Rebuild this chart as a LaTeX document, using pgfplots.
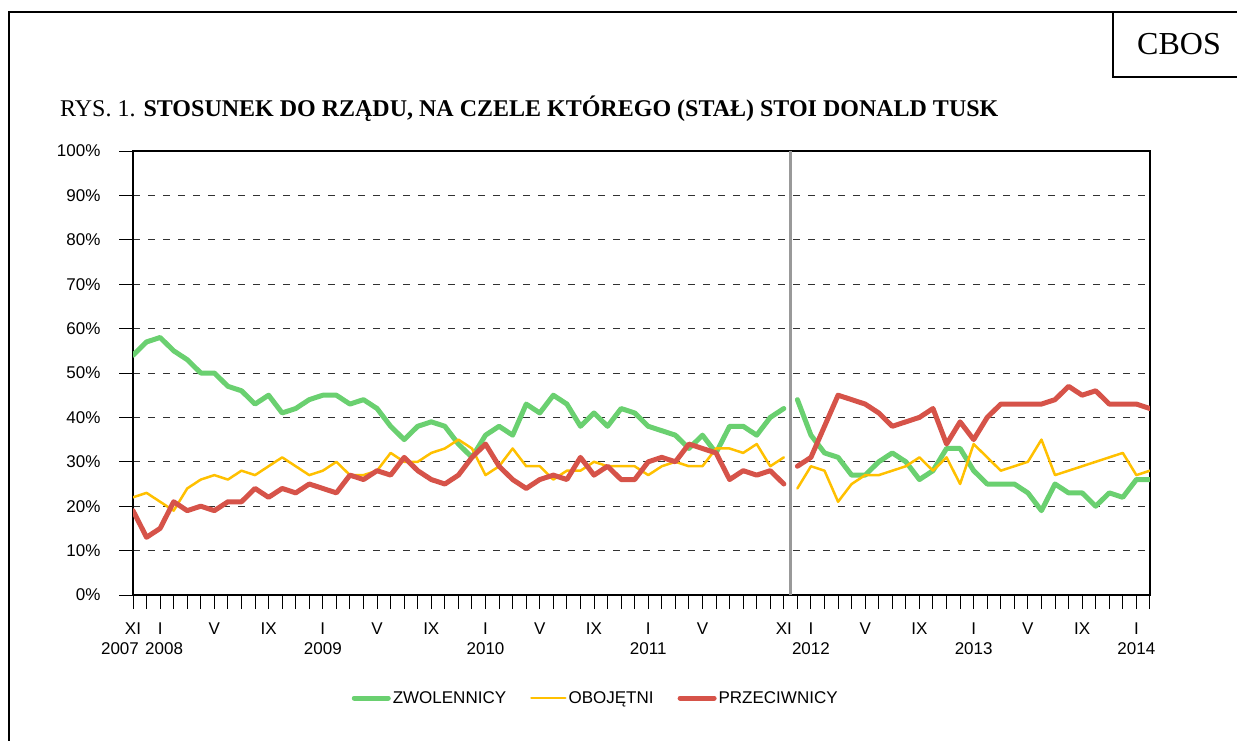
\documentclass[border=0pt]{standalone}
\usepackage{fontspec}
\setmainfont{Liberation Sans}
\newfontfamily\timesfont{Liberation Serif}
\usepackage{pgfplots}
\pgfplotsset{compat=1.18}
\usepackage{pgfplotstable}

\definecolor{cgreen}{RGB}{106,208,112}
\definecolor{cred}{RGB}{214,83,73}
\definecolor{cyellow}{RGB}{255,192,0}
\definecolor{cgrid}{RGB}{50,50,50}

\pgfplotstableread{
x y
0 54
1 57
2 58
3 55
4 53
5 50
6 50
7 47
8 46
9 43
10 45
11 41
12 42
13 44
14 45
15 45
16 43
17 44
18 42
19 38
20 35
21 38
22 39
23 38
24 34
25 31
26 36
27 38
28 36
29 43
30 41
31 45
32 43
33 38
34 41
35 38
36 42
37 41
38 38
39 37
40 36
41 33
42 36
43 32
44 38
45 38
46 36
47 40
48 42
48.5 nan
49 44
50 36
51 32
52 31
53 27
54 27
55 30
56 32
57 30
58 26
59 28
60 33
61 33
62 28
63 25
64 25
65 25
66 23
67 19
68 25
69 23
70 23
71 20
72 23
73 22
74 26
75 26
}\greendata

\pgfplotstableread{
x y
0 22
1 23
2 21
3 19
4 24
5 26
6 27
7 26
8 28
9 27
10 29
11 31
12 29
13 27
14 28
15 30
16 27
17 27
18 28
19 32
20 30
21 30
22 32
23 33
24 35
25 33
26 27
27 29
28 33
29 29
30 29
31 26
32 28
33 28
34 30
35 29
36 29
37 29
38 27
39 29
40 30
41 29
42 29
43 33
44 33
45 32
46 34
47 29
48 31
48.5 nan
49 24
50 29
51 28
52 21
53 25
54 27
55 27
56 28
57 29
58 31
59 28
60 31
61 25
62 34
63 31
64 28
65 29
66 30
67 35
68 27
69 28
70 29
71 30
72 31
73 32
74 27
75 28
}\yellowdata

\pgfplotstableread{
x y
0 19
1 13
2 15
3 21
4 19
5 20
6 19
7 21
8 21
9 24
10 22
11 24
12 23
13 25
14 24
15 23
16 27
17 26
18 28
19 27
20 31
21 28
22 26
23 25
24 27
25 31
26 34
27 29
28 26
29 24
30 26
31 27
32 26
33 31
34 27
35 29
36 26
37 26
38 30
39 31
40 30
41 34
42 33
43 32
44 26
45 28
46 27
47 28
48 25
48.5 nan
49 29
50 31
51 38
52 45
53 44
54 43
55 41
56 38
57 39
58 40
59 42
60 34
61 39
62 35
63 40
64 43
65 43
66 43
67 43
68 44
69 47
70 45
71 46
72 43
73 43
74 43
75 42
}\reddata

\begin{document}
\begin{tikzpicture}
\path[use as bounding box] (0pt,0pt) rectangle (1237pt,740pt);
% frame
\draw[line width=2pt] (9pt,-5pt) -- (9pt,728pt) -- (1245pt,728pt);
\draw[line width=2pt] (1113pt,728pt) -- (1113pt,663pt) -- (1245pt,663pt);
\node[anchor=base, font=\timesfont\fontsize{32}{38}\selectfont, inner sep=0pt] at (1179pt,685pt) {CBOS};
\node[anchor=base west, font=\timesfont\fontsize{24}{28}\selectfont, inner sep=0pt] at (60pt,623pt) {RYS. 1. \textbf{STOSUNEK DO RZĄDU, NA CZELE KTÓREGO (STAŁ) STOI DONALD TUSK}};

\begin{axis}[
  at={(133pt,145pt)}, anchor=south west,
  scale only axis, width=1017pt, height=444pt,
  xmin=0, xmax=75, ymin=0, ymax=100,
  axis line style={black, line width=1.2pt},
  tick align=outside, xtick pos=bottom, ytick pos=left,
  major tick length=14pt,
  tick style={black, line width=1pt},
  ytick={0,10,...,100},
  yticklabel={\pgfmathprintnumber{\tick}\%},
  yticklabel style={xshift=-15pt},
  xtick={0,...,75}, xticklabels={},
  extra x ticks={0,2,6,10,14,18,22,26,30,34,38,42,48,50,54,58,62,66,70,74},
  extra x tick labels={XI\\\makebox[0pt]{\hspace*{-26pt}2007},I\\\makebox[0pt]{\hspace*{8pt}2008},V,IX,I\\2009,V,IX,I\\2010,V,IX,I\\2011,V,XI,I\\2012,V,IX,I\\2013,V,IX,I\\2014},
  extra x tick style={major tick length=0pt, grid=none},
  /pgf/number format/assume math mode=true,
  ticklabel style={font=\fontsize{17}{20}\selectfont},
  xticklabel style={align=center, anchor=north, yshift=-24pt},
  ymajorgrids, grid style={cgrid, line width=1pt, dash pattern=on 7pt off 8pt},
  unbounded coords=jump,
  legend style={at={(0.455,-0.232)}, anchor=center, draw=none, fill=none,
    legend columns=3, font=\fontsize{17}{20}\selectfont,
    /tikz/every even column/.append style={column sep=22pt}},
  legend image code/.code={\draw[#1] (0pt,0pt) -- (34pt,0pt);},
]
\draw[color=gray!80, line width=3pt] (axis cs:48.5,0) -- (axis cs:48.5,100);
\addplot[cgreen, line width=5pt, line join=round, line cap=round] table[x=x,y=y] {\greendata};
\addlegendentry{ZWOLENNICY}
\addplot[cyellow, line width=2.5pt, line join=round, line cap=round] table[x=x,y=y] {\yellowdata};
\addlegendentry{OBOJĘTNI}
\addplot[cred, line width=5pt, line join=round, line cap=round] table[x=x,y=y] {\reddata};
\addlegendentry{PRZECIWNICY}
\end{axis}
\end{tikzpicture}
\end{document}
